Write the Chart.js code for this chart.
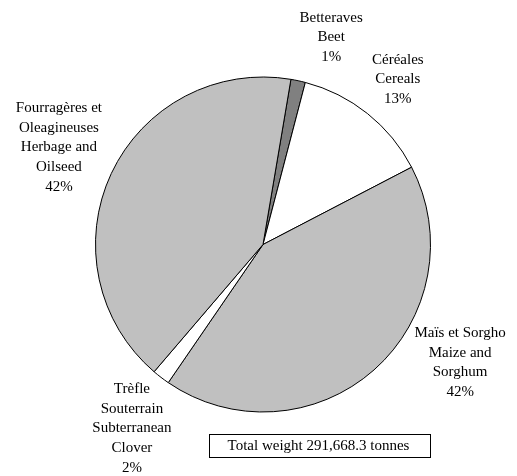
<!DOCTYPE html>
<html>
<head>
<meta charset="utf-8">
<script src="https://cdn.jsdelivr.net/npm/chart.js@4"></script>
<style>
html,body{margin:0;padding:0;background:#fff;}
#wrap{width:517px;height:476px;position:relative;}
</style>
</head>
<body>
<div id="wrap"><canvas id="c" width="517" height="476"></canvas></div>
<script>
// Data
const categories = [
  ["Betteraves", "Beet"],
  ["Céréales", "Cereals"],
  ["Maïs et Sorgho", "Maize and", "Sorghum"],
  ["Trèfle", "Souterrain", "Subterranean", "Clover"],
  ["Fourragères et", "Oleagineuses", "Herbage and", "Oilseed"]
];
const shares = [1.4, 13.3, 42.2, 1.7, 41.4];
const shareLabels = ["1%", "13%", "42%", "2%", "42%"];
const totalLabel = "Total weight 291,668.3 tonnes";

const fills = ["#808080", "#ffffff", "#c0c0c0", "#ffffff", "#c0c0c0"];
// label placement: radial distance from centre and extra nudge (px)
const labelDist = [215, 213, 225, 226, 222];
const labelNudge = [[23, 3], [2, 1.5], [48, -50.5], [6.5, 4.7], [-3, -3]];
const FONT = "15px 'Liberation Serif', 'Times New Roman', serif";
const LINE_H = 19.7;

const labelPlugin = {
  id: 'sliceLabels',
  afterDraw(chart) {
    const ctx = chart.ctx;
    const meta = chart.getDatasetMeta(0);
    ctx.save();
    ctx.font = FONT;
    ctx.fillStyle = '#000';
    ctx.textAlign = 'center';
    ctx.textBaseline = 'middle';
    meta.data.forEach((arc, i) => {
      const mid = (arc.startAngle + arc.endAngle) / 2;
      const cx = arc.x + Math.cos(mid) * labelDist[i] + labelNudge[i][0];
      const cy = arc.y + Math.sin(mid) * labelDist[i] + labelNudge[i][1];
      const lines = categories[i].concat([shareLabels[i]]);
      const top = cy - (lines.length - 1) * LINE_H / 2;
      lines.forEach((t, k) => ctx.fillText(t, cx, top + k * LINE_H));
    });
    // total weight box below the pie
    const arc0 = meta.data[0];
    const bx = arc0.x + 56.5, by = arc0.y + 200.5;
    const w = 221, h = 23;
    const x0 = Math.round(bx - w / 2) + 0.5, y0 = Math.round(by - h / 2) + 0.5;
    ctx.lineWidth = 1;
    ctx.strokeStyle = '#000';
    ctx.fillStyle = '#fff';
    ctx.fillRect(x0, y0, w, h);
    ctx.strokeRect(x0, y0, w, h);
    ctx.fillStyle = '#000';
    ctx.fillText(totalLabel, bx - 1, by + 1);
    ctx.restore();
  }
};

new Chart(document.getElementById('c'), {
  type: 'pie',
  data: {
    labels: categories.map(c => c.join(' ')),
    datasets: [{
      data: shares,
      backgroundColor: fills,
      borderColor: '#000',
      borderWidth: 1,
      borderAlign: 'center'
    }]
  },
  options: {
    responsive: false,
    animation: false,
    rotation: 9.6,
    layout: { padding: { top: 76, bottom: 63, left: 95, right: 86 } },
    plugins: {
      legend: { display: false },
      tooltip: { enabled: false },
      title: { display: false }
    }
  },
  plugins: [labelPlugin]
});
</script>
</body>
</html>
